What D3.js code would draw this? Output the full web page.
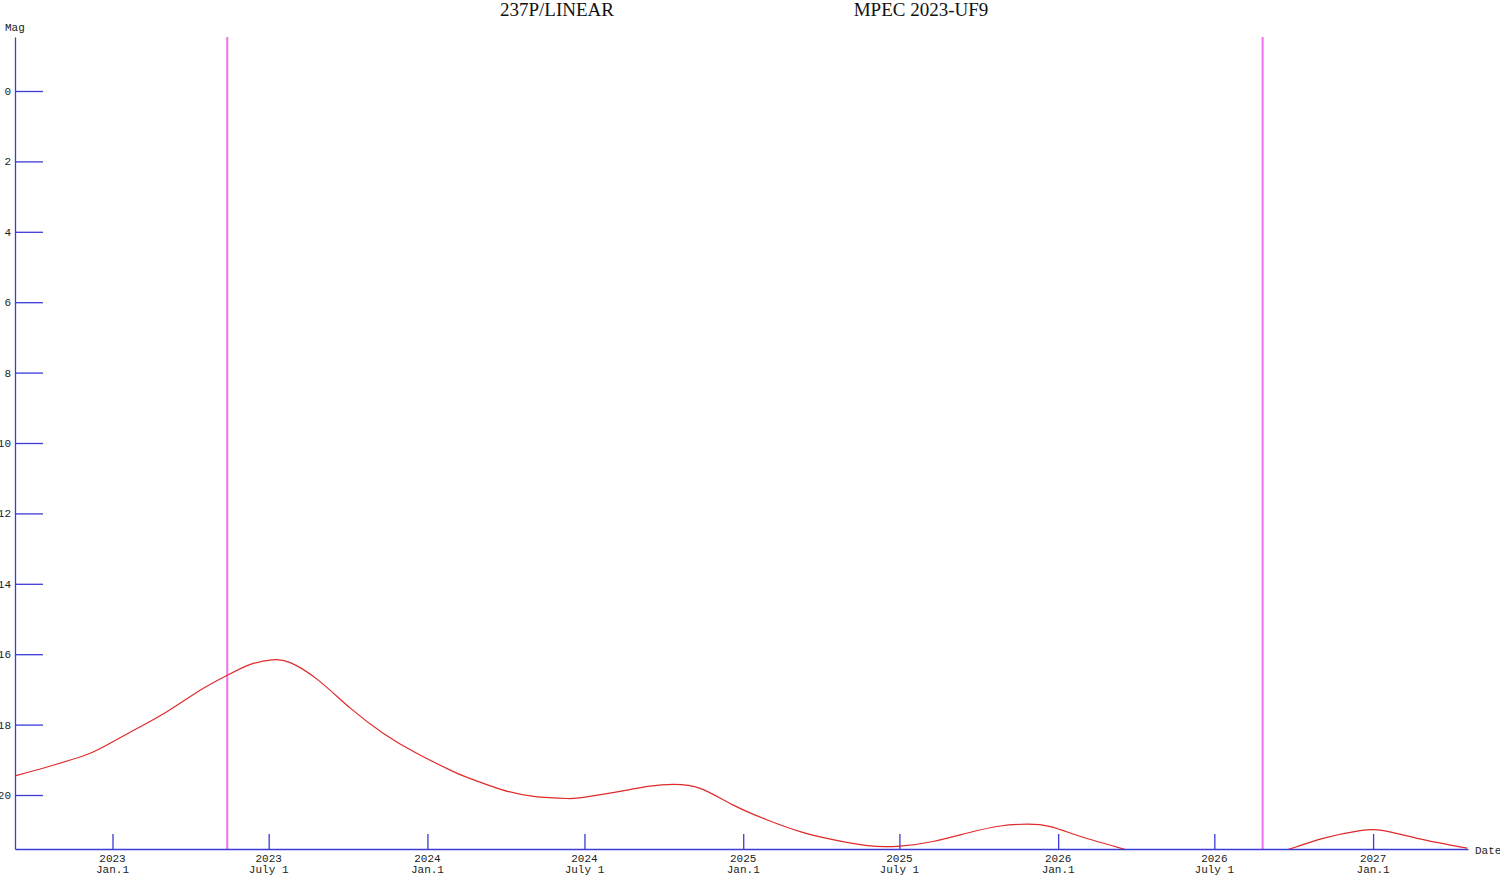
<!DOCTYPE html>
<html>
<head>
<meta charset="utf-8">
<script src="https://cdn.jsdelivr.net/npm/d3@7"></script>
<style>
  html, body { margin: 0; padding: 0; background: #fff; }
  svg { display: block; }
</style>
</head>
<body>
<svg id="chart" width="1500" height="884"></svg>
<script>
// ---- data ----
const titleLeft = "237P/LINEAR";
const titleRight = "MPEC 2023-UF9";

const obsDates = [
  "2022-09-11","2022-10-19","2022-11-27","2022-12-18","2023-01-25","2023-03-06",
  "2023-04-13","2023-05-14","2023-06-10","2023-07-05","2023-07-26","2023-08-27",
  "2023-10-04","2023-11-11","2023-12-20","2024-01-28","2024-02-16","2024-03-26",
  "2024-05-03","2024-06-11","2024-06-30","2024-08-08","2024-09-15","2024-10-12",
  "2024-11-12","2024-12-20","2025-01-29","2025-03-08","2025-04-15","2025-05-25",
  "2025-07-02","2025-08-09","2025-09-18","2025-10-26","2025-11-26","2025-12-23",
  "2026-01-30","2026-03-17","2026-04-29","2026-06-20","2026-08-11","2026-09-27",
  "2026-11-04","2026-12-17","2027-01-13","2027-02-21","2027-04-20"
];
const magnitudes = [
  19.45, 19.19, 18.90, 18.68, 18.17, 17.62,
  17.02, 16.60, 16.29, 16.16, 16.24, 16.73,
  17.54, 18.25, 18.82, 19.30, 19.50, 19.84,
  20.04, 20.10, 20.07, 19.91, 19.75, 19.70,
  19.81, 20.28, 20.71, 21.04, 21.27, 21.44,
  21.45, 21.32, 21.08, 20.88, 20.83, 20.90,
  21.20, 21.53, 21.85, 22.00, 21.85, 21.53,
  21.23, 21.01, 21.01, 21.23, 21.51
];
const markerDates = ["2023-05-14", "2026-08-26"];

const xTickDates = ["2023-01-01","2023-07-01","2024-01-01","2024-07-01","2025-01-01",
                    "2025-07-01","2026-01-01","2026-07-01","2027-01-01"];
const xTickYears = ["2023","2023","2024","2024","2025","2025","2026","2026","2027"];
const xTickSub   = ["Jan.1","July 1","Jan.1","July 1","Jan.1","July 1","Jan.1","July 1","Jan.1"];
const yTicks = [0, 2, 4, 6, 8, 10, 12, 14, 16, 18, 20];
const xDomain = ["2022-09-10", "2027-04-21"];
const yDomain = [-1.534, 21.534];

// ---- drawing ----
const parse = d3.utcParse("%Y-%m-%d");
const svg = d3.select("#chart");
const plotLeft = 15, plotRight = 1468, plotTop = 37, plotBottom = 849;

const x = d3.scaleUtc().domain(xDomain.map(parse)).range([plotLeft, plotRight]);
const y = d3.scaleLinear().domain(yDomain).range([plotTop, plotBottom]);

const axisColor = "#3b3bd6";
const mono = "'Liberation Mono', 'DejaVu Sans Mono', monospace";

// Titles
svg.append("text").attr("x", 557).attr("y", 16).attr("text-anchor", "middle")
  .attr("font-family", "'Liberation Serif', 'Times New Roman', serif")
  .attr("font-size", 19).attr("fill", "#111").text(titleLeft);
svg.append("text").attr("x", 921).attr("y", 16).attr("text-anchor", "middle")
  .attr("font-family", "'Liberation Serif', 'Times New Roman', serif")
  .attr("font-size", 19).attr("fill", "#111").text(titleRight);

// Marker lines
svg.append("g").selectAll("line").data(markerDates).join("line")
  .attr("x1", d => x(parse(d))).attr("x2", d => x(parse(d)))
  .attr("y1", plotTop).attr("y2", plotBottom)
  .attr("stroke", "#f070ee").attr("stroke-width", 2);

// Y axis
const yAxis = d3.axisLeft(y).tickValues(yTicks).tickSize(-28).tickSizeOuter(0).tickPadding(4)
  .tickFormat(d3.format("d"));
const gy = svg.append("g").attr("transform", `translate(${plotLeft},0)`).call(yAxis);
gy.select(".domain").attr("stroke", axisColor).attr("stroke-width", 1.3);
gy.selectAll(".tick line").attr("stroke", axisColor).attr("stroke-width", 1.3);
gy.selectAll(".tick text").attr("font-family", mono).attr("font-size", 11).attr("fill", "#222");

// X axis
const xAxis = d3.axisBottom(x).tickValues(xTickDates.map(parse)).tickSize(-15).tickSizeOuter(0)
  .tickFormat(() => "");
const gx = svg.append("g").attr("transform", `translate(0,${plotBottom})`).call(xAxis);
gx.select(".domain").attr("stroke", axisColor).attr("stroke-width", 1.3);
gx.selectAll(".tick line").attr("stroke", axisColor).attr("stroke-width", 1.3);
gx.selectAll(".tick text").each(function(d, i) {
  const t = d3.select(this).attr("y", 0).attr("dy", null)
    .attr("font-family", mono).attr("font-size", 11).attr("fill", "#222");
  t.text(null);
  t.append("tspan").attr("x", -0.5).attr("y", 13).text(xTickYears[i]);
  t.append("tspan").attr("x", -0.5).attr("y", 24).text(xTickSub[i]);
});

// Axis labels
svg.append("text").attr("x", 5).attr("y", 31).attr("font-family", mono)
  .attr("font-size", 11).attr("fill", "#222").text("Mag");
svg.append("text").attr("x", 1475).attr("y", 854).attr("font-family", mono)
  .attr("font-size", 11).attr("fill", "#222").text("Date");

// Curve
svg.append("defs").append("clipPath").attr("id", "plotclip")
  .append("rect").attr("x", plotLeft).attr("y", plotTop)
  .attr("width", plotRight - plotLeft).attr("height", plotBottom - plotTop);

const pts = obsDates.map((d, i) => [parse(d), magnitudes[i]]);
const line = d3.line().x(d => x(d[0])).y(d => y(d[1])).curve(d3.curveNatural);
svg.append("path").datum(pts).attr("clip-path", "url(#plotclip)")
  .attr("d", line).attr("fill", "none").attr("stroke", "#e02a2a").attr("stroke-width", 1.2);
</script>
</body>
</html>
